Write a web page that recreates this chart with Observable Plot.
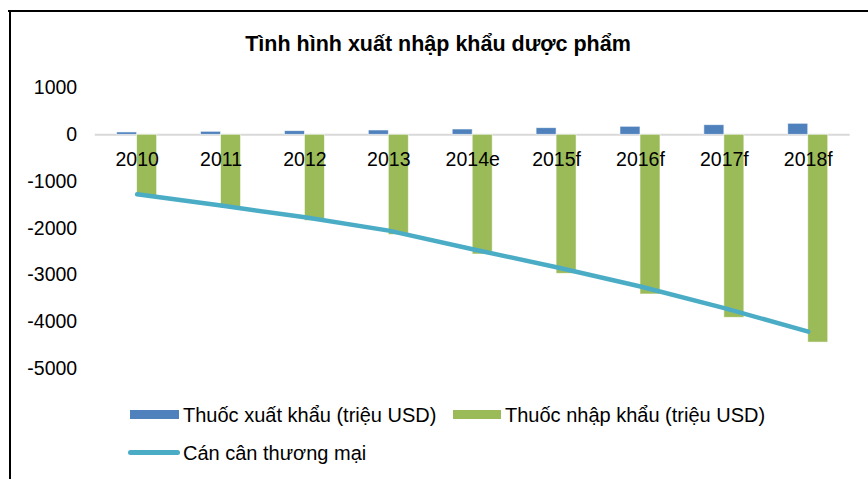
<!DOCTYPE html>
<html>
<head>
<meta charset="utf-8">
<script src="https://cdn.jsdelivr.net/npm/d3@7"></script>
<script src="https://cdn.jsdelivr.net/npm/@observablehq/plot@0.6"></script>
<style>
  html, body { margin: 0; padding: 0; background: #fff; }
  body { font-family: "Liberation Sans", Arial, sans-serif; color: #000; }
  #wrap { position: relative; width: 868px; height: 479px; overflow: hidden; background: #fff; }
  #chart { position: absolute; left: 0; top: 0; }
  .frame-top { position: absolute; left: 8px; top: 10px; width: 870px; height: 2px; background: #000; }
  .frame-left { position: absolute; left: 9px; top: 10px; width: 2px; height: 480px; background: #000; }
  #title { position: absolute; left: 0; top: 30px; width: 876px; text-align: center; font-weight: bold; font-size: 21.5px; line-height: 28px; }
  .leg { position: absolute; font-size: 20px; line-height: 22px; white-space: nowrap; }
  .sw { position: absolute; }
</style>
</head>
<body>
<div id="wrap">
  <div id="chart"></div>
  <div class="frame-top"></div>
  <div class="frame-left"></div>
  <div id="title">Tình hình xuất nhập khẩu dược phẩm</div>
  <div id="legend"></div>
</div>
<script>
const categories = ["2010", "2011", "2012", "2013", "2014e", "2015f", "2016f", "2017f", "2018f"];
const exportValues = [50, 64, 77, 92, 113, 141, 171, 205, 235];
const importValues = [-1320, -1575, -1840, -2140, -2558, -2970, -3412, -3910, -4440];
const balanceValues = [-1270, -1511, -1763, -2048, -2445, -2829, -3241, -3705, -4205];
const yTicks = [1000, 0, -1000, -2000, -3000, -4000, -5000];
const seriesNames = ["Thuốc xuất khẩu (triệu USD)", "Thuốc nhập khẩu (triệu USD)", "Cán cân thương mại"];
const seriesColors = ["#4F81BD", "#9BBB59", "#4BACC6"];

const W = 868, H = 479;
const mL = 94.7, mR = 18.3, mT = 87.5, mB = 110.7;
const bandW = (W - mL - mR) / categories.length;
const barW = 20;

const rows = categories.map((c, i) => ({cat: c, exp: exportValues[i], imp: importValues[i], bal: balanceValues[i]}));

const font = '"Liberation Sans", Arial, sans-serif';

const chart = Plot.plot({
  width: W, height: H,
  marginLeft: mL, marginRight: mR, marginTop: mT, marginBottom: mB,
  style: {fontFamily: font, fontSize: "19.5px", color: "#000", background: "transparent", overflow: "visible"},
  x: {type: "band", domain: categories, padding: 0, round: false, axis: null},
  y: {domain: [-5000, 1000], ticks: yTicks, tickSize: 0, tickPadding: 18, tickFormat: d => String(d), label: null},
  marks: [
    Plot.ruleY([0], {stroke: "#D9D9D9", strokeWidth: 2}),
    Plot.barY(rows, {x: "cat", y: "exp", fill: seriesColors[0], insetLeft: bandW / 2 - barW, insetRight: bandW / 2, stroke: "#fff", strokeOpacity: 0.7, strokeWidth: 0.8}),
    Plot.barY(rows, {x: "cat", y: "imp", fill: seriesColors[1], insetLeft: bandW / 2, insetRight: bandW / 2 - barW, stroke: "#fff", strokeOpacity: 0.7, strokeWidth: 0.8}),
    Plot.line(rows, {x: "cat", y: "bal", stroke: seriesColors[2], strokeWidth: 4.5, strokeLinecap: "round", strokeLinejoin: "round"}),
    Plot.text(categories, {x: d => d, y: () => 0, text: d => d, dy: 25, fill: "#000", fontSize: 19.5})
  ]
});
document.getElementById("chart").appendChild(chart);

// legend
const legend = document.getElementById("legend");
function addSwatch(left, top, w, h, color, round) {
  const s = document.createElement("div");
  s.className = "sw";
  s.style.left = left + "px"; s.style.top = top + "px";
  s.style.width = w + "px"; s.style.height = h + "px";
  s.style.background = color;
  if (round) s.style.borderRadius = (h / 2) + "px";
  legend.appendChild(s);
}
function addText(left, centerY, text) {
  const t = document.createElement("div");
  t.className = "leg";
  t.style.left = left + "px"; t.style.top = (centerY - 11) + "px";
  t.textContent = text;
  legend.appendChild(t);
}
addSwatch(130, 410, 49, 9, seriesColors[0], false);
addText(183, 415, seriesNames[0]);
addSwatch(453, 410, 48, 9, seriesColors[1], false);
addText(505, 415, seriesNames[1]);
addSwatch(128, 450, 52, 5, seriesColors[2], true);
addText(183, 453, seriesNames[2]);
</script>
</body>
</html>
